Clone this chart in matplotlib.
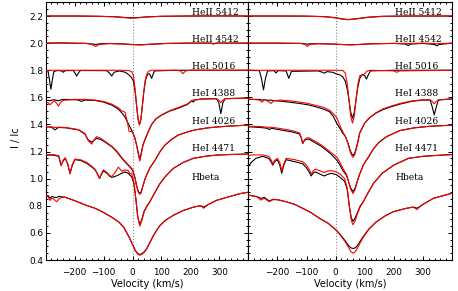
import numpy as np
import matplotlib
matplotlib.use("Agg")
import matplotlib.pyplot as plt
import matplotlib.ticker as ticker

# ---- line names and label heights ----
line_names = ["HeII 5412", "HeII 4542", "HeI 5016", "HeI 4388",
              "HeI 4026", "HeI 4471", "Hbeta"]
label_y = [2.207, 2.007, 1.807, 1.607, 1.407, 1.207, 0.99]
label_v = 205

# ================= LEFT PANEL (epoch 1) =================
L5412_v = [-300, -200, -120, -60, -30, -5, 20, 50, 100, 200, 300, 400]
L5412_obs = [2.200, 2.200, 2.198, 2.195, 2.190, 2.187, 2.189, 2.194, 2.198, 2.200, 2.201, 2.200]
L5412_mod = [2.200, 2.200, 2.198, 2.194, 2.188, 2.184, 2.187, 2.193, 2.198, 2.200, 2.200, 2.200]

L4542_v = [-300, -250, -160, -140, -127, -115, -80, -30, 0, 30, 60, 120, 200, 270, 280, 290, 400]
L4542_obs = [2.000, 2.002, 1.998, 1.994, 1.990, 1.995, 1.997, 1.994, 1.990, 1.988, 1.992, 1.998, 2.000, 2.000, 1.997, 2.000, 2.000]
L4542_mod = [2.000, 2.000, 1.998, 1.990, 1.975, 1.990, 1.997, 1.993, 1.989, 1.987, 1.991, 1.998, 2.000, 2.000, 1.993, 2.000, 2.000]

L5016_v = [-300, -292, -287, -282, -277, -272, -260, -245, -239, -233, -205, -199, -193, -187, -180,
           -90, -80, -72, -64, -45, -25, -12, -3, 3, 9, 14, 19, 24, 29, 34, 39, 45, 52, 58, 62, 66,
           70, 76, 150, 165, 174, 183, 200, 400]
L5016_obs = [1.800, 1.795, 1.730, 1.660, 1.730, 1.790, 1.798, 1.795, 1.785, 1.797, 1.798, 1.780, 1.757, 1.780, 1.798,
             1.797, 1.780, 1.757, 1.785, 1.795, 1.785, 1.765, 1.745, 1.720, 1.640, 1.540, 1.440, 1.400, 1.440, 1.540, 1.640, 1.730, 1.770, 1.775, 1.760, 1.740,
             1.765, 1.795, 1.800, 1.800, 1.800, 1.800, 1.800, 1.800]
L5016_mod = [1.800, 1.800, 1.800, 1.800, 1.800, 1.800, 1.800, 1.800, 1.800, 1.800, 1.800, 1.800, 1.800, 1.800, 1.800,
             1.800, 1.800, 1.800, 1.800, 1.800, 1.799, 1.797, 1.790, 1.760, 1.660, 1.540, 1.440, 1.395, 1.440, 1.540, 1.650, 1.740, 1.785, 1.795, 1.798, 1.800,
             1.800, 1.800, 1.800, 1.795, 1.775, 1.795, 1.800, 1.800]

L4388_v = [-300, -292, -285, -278, -270, -262, -256, -250, -240, -200, -187, -176, -165, -130, -100, -72,
           -50, -37, -26, -18, -12, -5, 0, 8, 14, 19, 25, 31, 36, 43, 55, 66, 80, 101, 130, 158, 190,
           205, 210, 215, 240, 290, 298, 305, 312, 320, 350, 400]
L4388_obs = [1.575, 1.578, 1.575, 1.580, 1.582, 1.578, 1.575, 1.580, 1.585, 1.582, 1.580, 1.570, 1.580, 1.577, 1.565, 1.543,
             1.515, 1.485, 1.455, 1.420, 1.395, 1.365, 1.345, 1.300, 1.250, 1.200, 1.140, 1.200, 1.250, 1.290, 1.350, 1.400, 1.440, 1.470, 1.500, 1.520, 1.548,
             1.575, 1.565, 1.580, 1.588, 1.590, 1.560, 1.480, 1.560, 1.590, 1.592, 1.595]
L4388_mod = [1.570, 1.560, 1.545, 1.560, 1.575, 1.555, 1.535, 1.560, 1.578, 1.585, 1.585, 1.585, 1.585, 1.580, 1.570, 1.550,
             1.525, 1.500, 1.490, 1.420, 1.350, 1.348, 1.342, 1.300, 1.245, 1.190, 1.130, 1.190, 1.245, 1.285, 1.350, 1.400, 1.440, 1.472, 1.503, 1.525, 1.552,
             1.578, 1.580, 1.582, 1.588, 1.590, 1.580, 1.560, 1.580, 1.590, 1.592, 1.595]

L4026_v = [-300, -280, -268, -256, -230, -187, -165, -153, -141, -133, -124, -110, -95, -72, -55, -37,
           -20, -9, 0, 8, 14, 20, 25, 30, 36, 45, 60, 78, 95, 112, 135, 158, 190, 216, 260, 300, 350, 400]
L4026_obs = [1.383, 1.380, 1.360, 1.378, 1.375, 1.360, 1.330, 1.285, 1.270, 1.285, 1.297, 1.290, 1.270, 1.236, 1.200, 1.150,
             1.110, 1.085, 1.063, 1.010, 0.950, 0.905, 0.890, 0.905, 0.950, 1.010, 1.080, 1.137, 1.200, 1.248, 1.290, 1.322, 1.345, 1.360, 1.375, 1.383, 1.390, 1.395]
L4026_mod = [1.385, 1.383, 1.378, 1.380, 1.378, 1.362, 1.335, 1.280, 1.255, 1.285, 1.310, 1.298, 1.275, 1.240, 1.205, 1.155,
             1.115, 1.090, 1.068, 1.010, 0.945, 0.898, 0.884, 0.898, 0.945, 1.008, 1.080, 1.137, 1.200, 1.248, 1.290, 1.322, 1.345, 1.360, 1.375, 1.383, 1.390, 1.395]

L4471_v = [-300, -275, -255, -247, -240, -233, -224, -216, -208, -199, -180, -158, -140, -129, -120, -114,
           -108, -101, -88, -80, -72, -62, -49, -37, -26, -15, -9, -3, 5, 12, 18, 25, 32, 40, 50, 60,
           75, 95, 115, 141, 175, 210, 250, 290, 330, 372, 400]
L4471_obs = [1.174, 1.174, 1.165, 1.100, 1.130, 1.150, 1.110, 1.039, 1.100, 1.140, 1.135, 1.113, 1.085, 1.064, 1.030, 1.002,
             1.030, 1.057, 1.040, 1.020, 1.010, 1.015, 1.027, 1.040, 1.050, 1.040, 1.025, 1.015, 0.960, 0.840, 0.720, 0.660, 0.700, 0.760, 0.800, 0.830,
             0.890, 0.965, 1.020, 1.076, 1.120, 1.150, 1.165, 1.174, 1.178, 1.180, 1.182]
L4471_mod = [1.178, 1.178, 1.170, 1.095, 1.135, 1.155, 1.110, 1.035, 1.105, 1.145, 1.140, 1.120, 1.090, 1.068, 1.030, 1.000,
             1.035, 1.065, 1.045, 1.025, 1.015, 1.040, 1.085, 1.055, 1.065, 1.060, 1.035, 1.040, 0.970, 0.840, 0.715, 0.650, 0.690, 0.755, 0.798, 0.830,
             0.890, 0.965, 1.020, 1.076, 1.120, 1.150, 1.165, 1.174, 1.178, 1.180, 1.182]

LHb_v = [-300, -290, -285, -278, -270, -262, -255, -245, -234, -200, -162, -130, -105, -75, -47, -30,
         -12, 0, 10, 18, 25, 33, 41, 49, 60, 72, 85, 95, 115, 141, 175, 210, 233, 240, 245, 252,
         260, 290, 330, 372, 400]
LHb_obs = [0.879, 0.872, 0.855, 0.870, 0.862, 0.860, 0.870, 0.866, 0.864, 0.838, 0.805, 0.782, 0.756, 0.720, 0.680, 0.640,
           0.570, 0.515, 0.470, 0.448, 0.440, 0.448, 0.462, 0.485, 0.530, 0.580, 0.625, 0.655, 0.695, 0.730, 0.765, 0.790, 0.800, 0.797, 0.790, 0.797,
           0.808, 0.840, 0.865, 0.890, 0.900]
LHb_mod = [0.879, 0.860, 0.840, 0.858, 0.845, 0.830, 0.850, 0.862, 0.864, 0.838, 0.805, 0.782, 0.756, 0.720, 0.680, 0.640,
           0.568, 0.512, 0.465, 0.443, 0.435, 0.443, 0.458, 0.482, 0.528, 0.580, 0.625, 0.655, 0.695, 0.730, 0.765, 0.790, 0.800, 0.793, 0.782, 0.793,
           0.808, 0.840, 0.865, 0.890, 0.900]

# ================= RIGHT PANEL (epoch 2) =================
R5412_v = [-300, -200, -100, -40, 0, 25, 45, 70, 110, 160, 250, 400]
R5412_obs = [2.200, 2.200, 2.199, 2.196, 2.188, 2.178, 2.174, 2.180, 2.191, 2.198, 2.200, 2.200]
R5412_mod = [2.200, 2.200, 2.199, 2.195, 2.186, 2.176, 2.173, 2.178, 2.190, 2.197, 2.200, 2.200]

R4542_v = [-300, -200, -120, -105, -97, -89, -60, -20, 20, 50, 80, 120, 200, 240, 249, 258, 300, 340, 348, 356, 400]
R4542_obs = [2.000, 2.000, 1.998, 1.995, 1.992, 1.995, 1.996, 1.994, 1.990, 1.988, 1.990, 1.995, 1.998, 1.993, 1.982, 1.993, 1.998, 1.990, 1.980, 1.990, 2.000]
R4542_mod = [2.000, 2.000, 1.998, 1.990, 1.975, 1.990, 1.996, 1.994, 1.990, 1.987, 1.990, 1.995, 1.998, 1.998, 1.997, 1.998, 2.000, 1.997, 1.995, 1.997, 2.000]

R5016_v = [-300, -262, -255, -248, -241, -234, -212, -205, -198, -170, -161, -152, -60, -45, -38, -30,
           -10, 0, 15, 25, 33, 40, 46, 52, 58, 64, 70, 76, 83, 92, 100, 106, 112, 120, 200, 210, 220, 400]
R5016_obs = [1.800, 1.797, 1.740, 1.655, 1.740, 1.795, 1.797, 1.780, 1.797, 1.795, 1.740, 1.792, 1.795, 1.785, 1.778, 1.790,
             1.785, 1.775, 1.765, 1.750, 1.720, 1.660, 1.580, 1.490, 1.445, 1.490, 1.580, 1.670, 1.740, 1.770, 1.760, 1.735, 1.765, 1.795, 1.800, 1.800, 1.800, 1.800]
R5016_mod = [1.800, 1.800, 1.800, 1.800, 1.800, 1.800, 1.800, 1.800, 1.800, 1.800, 1.800, 1.800, 1.800, 1.800, 1.800, 1.800,
             1.800, 1.800, 1.799, 1.798, 1.780, 1.700, 1.580, 1.460, 1.410, 1.460, 1.580, 1.690, 1.760, 1.765, 1.775, 1.790, 1.797, 1.800, 1.795, 1.785, 1.795, 1.800]

R4388_v = [-300, -262, -253, -244, -232, -222, -212, -190, -160, -124, -95, -67, -40, -21, -8, 4,
           15, 25, 34, 43, 50, 55, 60, 65, 70, 77, 83, 100, 117, 140, 163, 190, 221, 260, 300, 325,
           332, 339, 346, 353, 380, 400]
R4388_obs = [1.585, 1.585, 1.580, 1.583, 1.578, 1.580, 1.575, 1.572, 1.565, 1.555, 1.545, 1.530, 1.512, 1.494, 1.460, 1.408,
             1.370, 1.334, 1.310, 1.260, 1.210, 1.185, 1.172, 1.185, 1.220, 1.280, 1.340, 1.410, 1.450, 1.485, 1.510, 1.530, 1.550, 1.570, 1.580, 1.580,
             1.530, 1.470, 1.530, 1.580, 1.585, 1.588]
R4388_mod = [1.588, 1.580, 1.565, 1.583, 1.570, 1.555, 1.575, 1.580, 1.575, 1.565, 1.555, 1.540, 1.525, 1.505, 1.480, 1.450,
             1.390, 1.345, 1.310, 1.255, 1.200, 1.172, 1.158, 1.172, 1.210, 1.272, 1.335, 1.410, 1.452, 1.488, 1.515, 1.535, 1.555, 1.573, 1.582, 1.582,
             1.570, 1.552, 1.570, 1.582, 1.586, 1.588]

R4026_v = [-300, -260, -235, -228, -221, -190, -150, -124, -118, -113, -106, -98, -90, -70, -50, -32,
           -15, 4, 15, 25, 37, 45, 52, 60, 67, 74, 82, 95, 113, 130, 150, 175, 221, 270, 320, 400]
R4026_obs = [1.383, 1.378, 1.372, 1.362, 1.372, 1.360, 1.345, 1.330, 1.300, 1.260, 1.285, 1.292, 1.290, 1.265, 1.240, 1.210,
             1.180, 1.137, 1.100, 1.060, 1.026, 0.975, 0.930, 0.905, 0.930, 0.980, 1.030, 1.100, 1.160, 1.220, 1.270, 1.310, 1.355, 1.375, 1.386, 1.395]
R4026_mod = [1.388, 1.385, 1.380, 1.378, 1.380, 1.370, 1.355, 1.338, 1.305, 1.260, 1.290, 1.302, 1.300, 1.275, 1.250, 1.220,
             1.192, 1.160, 1.120, 1.075, 1.035, 0.975, 0.920, 0.890, 0.920, 0.975, 1.030, 1.100, 1.160, 1.220, 1.270, 1.310, 1.355, 1.375, 1.386, 1.395]

R4471_v = [-300, -290, -274, -251, -230, -222, -216, -210, -200, -192, -185, -178, -170, -140, -113, -100,
           -90, -84, -78, -70, -55, -45, -38, -30, -15, 2, 15, 31, 40, 47, 54, 60, 67, 75, 85, 95,
           110, 130, 160, 200, 250, 300, 350, 400]
R4471_obs = [1.090, 1.120, 1.150, 1.165, 1.150, 1.125, 1.100, 1.125, 1.140, 1.100, 1.040, 1.100, 1.140, 1.125, 1.110, 1.080,
             1.045, 1.020, 1.040, 1.050, 1.035, 1.025, 1.020, 1.030, 1.040, 1.030, 1.010, 0.980, 0.920, 0.800, 0.710, 0.685, 0.710, 0.750, 0.800, 0.830,
             0.890, 0.965, 1.040, 1.100, 1.150, 1.165, 1.172, 1.178]
R4471_mod = [1.170, 1.175, 1.175, 1.175, 1.165, 1.140, 1.110, 1.135, 1.150, 1.120, 1.060, 1.110, 1.150, 1.140, 1.125, 1.100,
             1.065, 1.035, 1.055, 1.070, 1.060, 1.050, 1.045, 1.055, 1.060, 1.050, 1.035, 1.000, 0.930, 0.800, 0.690, 0.660, 0.690, 0.740, 0.795, 0.830,
             0.890, 0.965, 1.040, 1.100, 1.150, 1.165, 1.172, 1.178]

RHb_v = [-300, -270, -257, -245, -228, -215, -200, -170, -140, -113, -85, -55, -25, 2, 15, 31,
         45, 52, 60, 68, 76, 94, 115, 140, 170, 198, 240, 265, 272, 279, 286, 300, 336, 370, 400]
RHb_obs = [0.879, 0.868, 0.855, 0.862, 0.835, 0.848, 0.845, 0.830, 0.810, 0.781, 0.750, 0.707, 0.670, 0.621, 0.590, 0.547,
           0.505, 0.490, 0.485, 0.490, 0.510, 0.571, 0.630, 0.682, 0.725, 0.756, 0.780, 0.790, 0.788, 0.782, 0.790, 0.810, 0.855, 0.875, 0.893]
RHb_mod = [0.879, 0.865, 0.842, 0.855, 0.830, 0.845, 0.845, 0.830, 0.810, 0.781, 0.750, 0.707, 0.670, 0.619, 0.586, 0.540,
           0.492, 0.462, 0.450, 0.462, 0.492, 0.565, 0.628, 0.682, 0.725, 0.756, 0.780, 0.790, 0.784, 0.772, 0.786, 0.810, 0.855, 0.875, 0.893]

left_lines = [(L5412_v, L5412_obs, L5412_mod), (L4542_v, L4542_obs, L4542_mod),
              (L5016_v, L5016_obs, L5016_mod), (L4388_v, L4388_obs, L4388_mod),
              (L4026_v, L4026_obs, L4026_mod), (L4471_v, L4471_obs, L4471_mod),
              (LHb_v, LHb_obs, LHb_mod)]
right_lines = [(R5412_v, R5412_obs, R5412_mod), (R4542_v, R4542_obs, R4542_mod),
               (R5016_v, R5016_obs, R5016_mod), (R4388_v, R4388_obs, R4388_mod),
               (R4026_v, R4026_obs, R4026_mod), (R4471_v, R4471_obs, R4471_mod),
               (RHb_v, RHb_obs, RHb_mod)]

fig = plt.figure(figsize=(4.58, 2.91), dpi=100)
ax_l = fig.add_axes([0.0998, 0.1065, 0.4424, 0.885])
ax_r = fig.add_axes([0.5422, 0.1065, 0.4447, 0.885])


def style(ax, show_y):
    ax.set_xlim(-300, 400)
    ax.set_ylim(0.4, 2.3)
    ax.xaxis.set_major_locator(ticker.FixedLocator([-200, -100, 0, 100, 200, 300]))
    ax.xaxis.set_minor_locator(ticker.MultipleLocator(20))
    ax.yaxis.set_major_locator(ticker.MultipleLocator(0.2))
    ax.yaxis.set_minor_locator(ticker.MultipleLocator(0.05))
    ax.yaxis.set_major_formatter(ticker.FormatStrFormatter("%.1f"))
    ax.tick_params(which="both", direction="in", top=True, right=True, width=0.7)
    ax.tick_params(which="major", length=3.0, labelsize=6.4, pad=5.5)
    ax.tick_params(which="minor", length=1.5)
    ax.tick_params(axis="y", which="major", pad=2)
    if not show_y:
        ax.tick_params(axis="y", labelleft=False)
    for s in ax.spines.values():
        s.set_linewidth(0.8)
    ax.axvline(0, color="0.55", ls=":", lw=0.8, zorder=1)
    ax.set_xlabel("Velocity (km/s)", fontsize=7, labelpad=2)


for ax, lines, show_y in [(ax_l, left_lines, True), (ax_r, right_lines, False)]:
    style(ax, show_y)
    for v, obs, mod in lines:
        ax.plot(v, obs, color="black", lw=0.8, zorder=2)
        ax.plot(v, mod, color="red", lw=0.8, zorder=3)
    for name, yy in zip(line_names, label_y):
        ax.text(label_v, yy, name, fontsize=6.6, family="DejaVu Serif",
                ha="left", va="baseline", zorder=4)

fig.text(16 / 458, 1 - 138 / 291, "I / Ic", rotation=90, fontsize=7,
         ha="center", va="center")

fig.savefig("out.png", dpi=100)
